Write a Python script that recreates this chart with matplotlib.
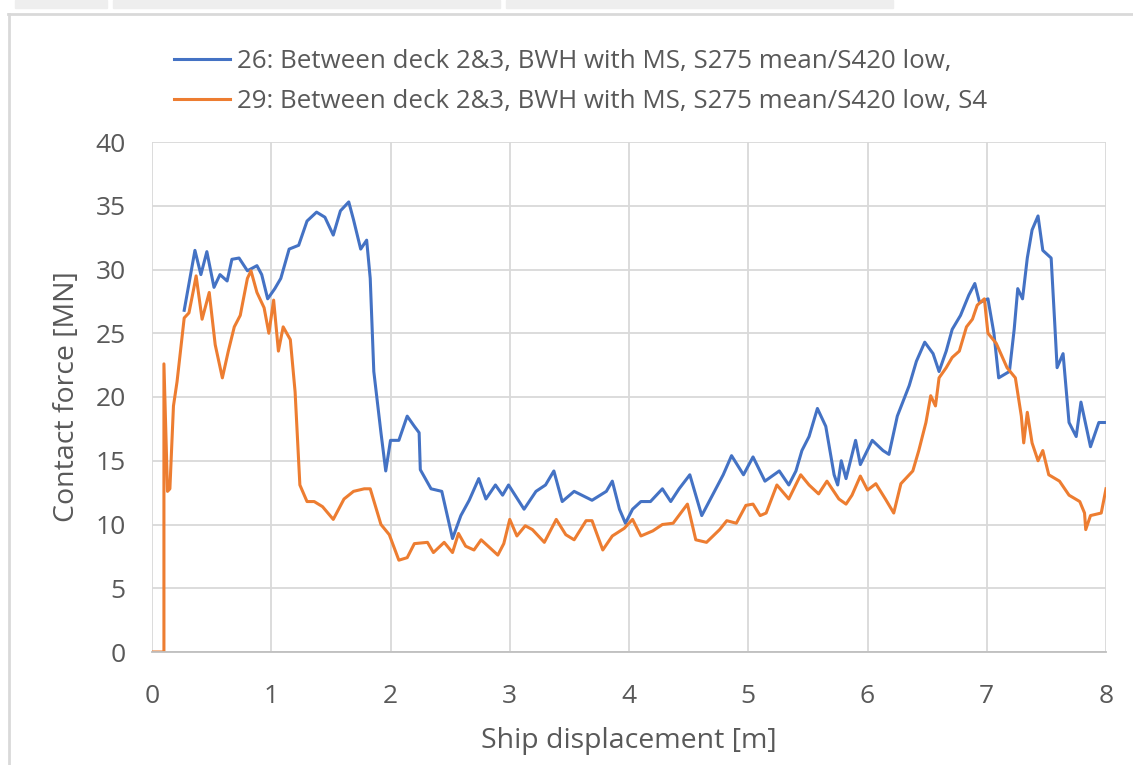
import matplotlib.pyplot as plt
from matplotlib.patches import Rectangle
from matplotlib.lines import Line2D

# series 26 (blue)
x_26 = [0.27, 0.36, 0.41, 0.46, 0.52, 0.57, 0.63, 0.67, 0.73, 0.80, 0.88, 0.92, 0.97,
        1.03, 1.08, 1.15, 1.23, 1.30, 1.38, 1.45, 1.52, 1.58, 1.65, 1.69, 1.75, 1.80,
        1.83, 1.86, 1.92, 1.96, 2.00, 2.07, 2.14, 2.20, 2.24, 2.25, 2.34, 2.43, 2.52,
        2.59, 2.66, 2.74, 2.80, 2.88, 2.94, 2.99, 3.12, 3.22, 3.30, 3.37, 3.44, 3.54,
        3.69, 3.81, 3.86, 3.92, 3.97, 4.03, 4.10, 4.18, 4.28, 4.35, 4.42, 4.51, 4.61,
        4.70, 4.79, 4.86, 4.96, 5.04, 5.14, 5.26, 5.34, 5.40, 5.45, 5.51, 5.58, 5.65,
        5.72, 5.75, 5.78, 5.82, 5.90, 5.94, 6.04, 6.13, 6.18, 6.25, 6.35, 6.41, 6.48,
        6.55, 6.60, 6.66, 6.71, 6.78, 6.85, 6.90, 6.94, 7.01, 7.06, 7.10, 7.19, 7.23,
        7.26, 7.30, 7.34, 7.38, 7.43, 7.47, 7.54, 7.57, 7.59, 7.64, 7.69, 7.75, 7.79,
        7.87, 7.94, 8.00]
f_26 = [26.8, 31.5, 29.6, 31.4, 28.6, 29.6, 29.1, 30.8, 30.9, 29.9, 30.3, 29.6, 27.7,
        28.5, 29.3, 31.6, 31.9, 33.8, 34.5, 34.1, 32.7, 34.6, 35.3, 33.9, 31.6, 32.3,
        29.3, 22.0, 17.2, 14.2, 16.6, 16.6, 18.5, 17.7, 17.2, 14.3, 12.8, 12.6, 8.9,
        10.7, 11.9, 13.6, 12.0, 13.1, 12.3, 13.1, 11.2, 12.6, 13.1, 14.2, 11.8, 12.6,
        11.9, 12.6, 13.4, 11.2, 10.1, 11.2, 11.8, 11.8, 12.8, 11.8, 12.8, 13.9, 10.7,
        12.3, 13.9, 15.4, 13.9, 15.3, 13.4, 14.2, 13.1, 14.2, 15.8, 16.9, 19.1, 17.7,
        13.9, 13.1, 15.0, 13.6, 16.6, 14.7, 16.6, 15.8, 15.5, 18.5, 20.9, 22.8, 24.3,
        23.4, 22.0, 23.6, 25.3, 26.4, 28.0, 28.9, 27.4, 27.7, 25.0, 21.5, 22.0, 25.3,
        28.5, 27.7, 30.9, 33.1, 34.2, 31.5, 30.9, 25.8, 22.3, 23.4, 18.0, 16.9, 19.6,
        16.1, 18.0, 18.0]

# series 29 (orange)
x_29 = [0.00, 0.10, 0.10, 0.13, 0.15, 0.18, 0.21, 0.27, 0.31, 0.35, 0.37, 0.42, 0.48,
        0.53, 0.59, 0.64, 0.69, 0.74, 0.80, 0.83, 0.88, 0.94, 0.98, 1.02, 1.06, 1.10,
        1.16, 1.20, 1.24, 1.30, 1.36, 1.43, 1.52, 1.61, 1.69, 1.78, 1.83, 1.92, 1.99,
        2.07, 2.14, 2.20, 2.31, 2.36, 2.45, 2.52, 2.57, 2.63, 2.70, 2.76, 2.83, 2.90,
        2.95, 3.00, 3.06, 3.13, 3.19, 3.29, 3.39, 3.47, 3.54, 3.64, 3.69, 3.78, 3.86,
        3.96, 4.03, 4.10, 4.20, 4.28, 4.37, 4.49, 4.56, 4.65, 4.76, 4.82, 4.90, 4.98,
        5.04, 5.10, 5.15, 5.24, 5.34, 5.44, 5.51, 5.59, 5.66, 5.76, 5.82, 5.87, 5.94,
        6.00, 6.07, 6.15, 6.22, 6.28, 6.38, 6.43, 6.49, 6.53, 6.57, 6.60, 6.66, 6.71,
        6.77, 6.83, 6.88, 6.92, 6.98, 7.01, 7.08, 7.17, 7.24, 7.29, 7.31, 7.34, 7.38,
        7.43, 7.47, 7.52, 7.61, 7.69, 7.78, 7.82, 7.83, 7.87, 7.96, 7.99, 8.00]
f_29 = [0.0, 0.0, 22.6, 12.6, 12.8, 19.3, 21.2, 26.2, 26.6, 28.5, 29.5, 26.1, 28.2,
        24.1, 21.5, 23.6, 25.5, 26.4, 29.3, 29.9, 28.2, 27.0, 25.0, 27.6, 23.6, 25.5,
        24.5, 20.4, 13.1, 11.8, 11.8, 11.4, 10.4, 12.0, 12.6, 12.8, 12.8, 10.0, 9.2,
        7.2, 7.4, 8.5, 8.6, 7.8, 8.6, 7.8, 9.3, 8.3, 8.0, 8.8, 8.2, 7.6,
        8.5, 10.4, 9.1, 9.9, 9.6, 8.6, 10.4, 9.2, 8.8, 10.3, 10.3, 8.0, 9.1,
        9.7, 10.4, 9.1, 9.5, 10.0, 10.1, 11.6, 8.8, 8.6, 9.6, 10.3, 10.1, 11.5,
        11.6, 10.7, 10.9, 13.1, 12.0, 13.9, 13.1, 12.4, 13.4, 12.0, 11.6, 12.3, 13.8,
        12.7, 13.2, 12.0, 10.9, 13.2, 14.2, 15.8, 18.0, 20.1, 19.3, 21.5, 22.3, 23.1,
        23.6, 25.5, 26.1, 27.2, 27.7, 25.0, 24.2, 22.3, 21.5, 18.5, 16.4, 18.8, 16.4,
        15.0, 15.8, 13.9, 13.4, 12.3, 11.8, 10.9, 9.6, 10.7, 10.9, 12.3, 12.8]

labels = ["26: Between deck 2&3, BWH with MS, S275 mean/S420 low,",
          "29: Between deck 2&3, BWH with MS, S275 mean/S420 low, S4"]
x_ticks = [0, 1, 2, 3, 4, 5, 6, 7, 8]
y_ticks = [0, 5, 10, 15, 20, 25, 30, 35, 40]

plt.rcParams['font.family'] = ['Open Sans', 'DejaVu Sans']
text_col = "#595959"
blue = "#4472C4"
orange = "#ED7D31"

fig = plt.figure(figsize=(11.33, 7.65), dpi=100)
W, H = 1133, 765

# grey tabs at the very top and the chart frame
for x0, x1 in [(15, 107), (113, 500), (506, 893)]:
    fig.patches.append(Rectangle((x0 / W, 1 - 8 / H), (x1 - x0) / W, 8 / H,
                                 transform=fig.transFigure, color="#eeeeee", zorder=0))
fig.lines.append(Line2D([8 / W, 1], [1 - 14 / H, 1 - 14 / H], transform=fig.transFigure,
                        color="#d9d9d9", lw=2))
fig.lines.append(Line2D([9 / W, 9 / W], [0, 1 - 14 / H], transform=fig.transFigure,
                        color="#d9d9d9", lw=2))

ax = fig.add_axes([152 / W, 1 - 652 / H, (1106 - 152) / W, (652 - 142) / H])
ax.plot(x_26, f_26, color=blue, lw=2.2, label=labels[0], solid_joinstyle="round")
ax.plot(x_29, f_29, color=orange, lw=2.2, label=labels[1], solid_joinstyle="round")

ax.set_xlim(0, 8)
ax.set_ylim(0, 40)
ax.set_xticks(x_ticks)
ax.set_yticks(y_ticks)
ax.grid(True, color="#d9d9d9", lw=1.3)
ax.set_axisbelow(True)
for s in ["top", "right", "left"]:
    ax.spines[s].set_visible(False)
ax.spines["bottom"].set_color("#bfbfbf")
ax.spines["bottom"].set_linewidth(1.3)
ax.tick_params(length=0, labelsize=19, colors=text_col)
ax.tick_params(axis="x", pad=23)
ax.tick_params(axis="y", pad=19)
ax.set_xlabel("Ship displacement [m]", fontsize=20.5, color=text_col, labelpad=13)
ax.set_ylabel("Contact force [MN]", fontsize=20.5, color=text_col, labelpad=10)

fig.legend(loc="upper left", bbox_to_anchor=(164 / W, 1 - 39 / H), frameon=False,
           fontsize=18.6, labelcolor=text_col, handlelength=2.15, handletextpad=0.27,
           labelspacing=0.58, borderaxespad=0)

fig.savefig("out.png", dpi=100)
